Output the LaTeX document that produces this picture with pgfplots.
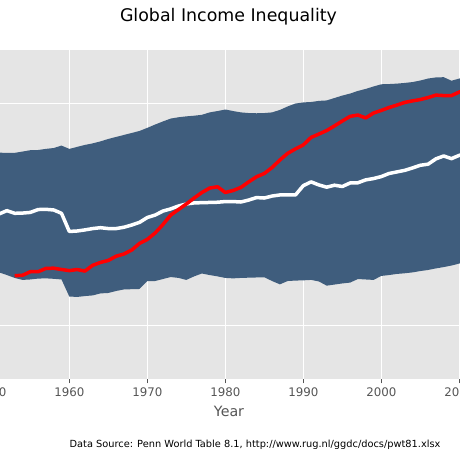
\documentclass[border=0pt]{standalone}
\usepackage{pgfplots}
\pgfplotsset{compat=1.18}
\usepackage{pgfplotstable}
\usepgfplotslibrary{fillbetween}
\usepackage{fontspec}
\setmainfont{DejaVu Sans}
\definecolor{band}{HTML}{3F5D7D}
\definecolor{panel}{HTML}{E5E5E5}
\definecolor{ticktext}{HTML}{555555}

% log10 of income: year, 10th pct (lo), median (med), 90th pct (hi)
\pgfplotstableread{
year lo med hi
1951 3.239 3.503 3.780
1952 3.227 3.518 3.779
1953 3.214 3.506 3.779
1954 3.205 3.507 3.785
1955 3.207 3.510 3.791
1956 3.211 3.523 3.792
1957 3.212 3.524 3.797
1958 3.210 3.521 3.801
1959 3.207 3.506 3.812
1960 3.130 3.424 3.797
1961 3.128 3.426 3.806
1962 3.132 3.431 3.815
1963 3.135 3.437 3.822
1964 3.144 3.441 3.831
1965 3.146 3.437 3.842
1966 3.155 3.437 3.851
1967 3.162 3.443 3.860
1968 3.163 3.453 3.869
1969 3.164 3.465 3.878
1970 3.200 3.487 3.892
1971 3.200 3.498 3.907
1972 3.209 3.516 3.921
1973 3.218 3.526 3.934
1974 3.214 3.539 3.940
1975 3.205 3.548 3.944
1976 3.221 3.553 3.947
1977 3.234 3.554 3.951
1978 3.227 3.555 3.962
1979 3.221 3.556 3.968
1980 3.214 3.559 3.975
1981 3.212 3.559 3.968
1982 3.214 3.557 3.962
1983 3.215 3.566 3.959
1984 3.216 3.577 3.958
1985 3.217 3.575 3.959
1986 3.200 3.584 3.962
1987 3.185 3.589 3.973
1988 3.200 3.589 3.989
1989 3.202 3.589 4.002
1990 3.203 3.631 4.007
1991 3.205 3.648 4.009
1992 3.198 3.634 4.014
1993 3.179 3.624 4.016
1994 3.184 3.633 4.027
1995 3.189 3.627 4.038
1996 3.193 3.643 4.047
1997 3.209 3.644 4.059
1998 3.207 3.657 4.068
1999 3.205 3.663 4.079
2000 3.223 3.672 4.089
2001 3.227 3.686 4.090
2002 3.232 3.693 4.092
2003 3.235 3.700 4.095
2004 3.239 3.711 4.099
2005 3.245 3.723 4.106
2006 3.250 3.728 4.115
2007 3.257 3.752 4.120
2008 3.263 3.765 4.121
2009 3.270 3.753 4.105
2010 3.279 3.768 4.115
2011 3.288 3.779 4.122
}\bandtable

\pgfplotstableread{
year val
1953 3.224
1954 3.226
1955 3.242
1956 3.242
1957 3.257
1958 3.258
1959 3.252
1960 3.247
1961 3.252
1962 3.245
1963 3.271
1964 3.284
1965 3.293
1966 3.312
1967 3.322
1968 3.340
1969 3.370
1970 3.388
1971 3.417
1972 3.455
1973 3.498
1974 3.523
1975 3.548
1976 3.575
1977 3.600
1978 3.620
1979 3.626
1980 3.600
1981 3.609
1982 3.623
1983 3.648
1984 3.671
1985 3.686
1986 3.713
1987 3.747
1988 3.777
1989 3.797
1990 3.815
1991 3.849
1992 3.864
1993 3.880
1994 3.901
1995 3.923
1996 3.944
1997 3.950
1998 3.937
1999 3.959
2000 3.971
2001 3.984
2002 3.995
2003 4.007
2004 4.014
2005 4.020
2006 4.029
2007 4.040
2008 4.038
2009 4.038
2010 4.054
2011 4.063
}\redtable

\begin{document}
\begin{tikzpicture}
\begin{axis}[
  at={(-16.5pt,80.5pt)}, anchor=origin,
  x=7.8pt, y=221.3pt,
  xmin=1949, xmax=2012, ymin=2.755, ymax=4.244,
  axis background/.style={fill=panel},
  axis line style={draw=none},
  grid=major, major grid style={white, line width=1pt},
  xtick={1950,1960,...,2010}, ytick={3,4},
  yticklabels={}, ytick style={draw=none},
  xtick pos=bottom, tick align=outside, major tick length=4pt,
  xtick style={ticktext, line width=0.8pt},
  /pgf/number format/1000 sep={},
  /pgf/number format/assume math mode=true,
  xticklabel style={font=\fontsize{11.8}{14}\selectfont, text=ticktext, yshift=-1pt},
]
\addplot[name path=hi, draw=none] table[x=year, y=hi] {\bandtable};
\addplot[name path=lo, draw=none] table[x=year, y=lo] {\bandtable};
\addplot[band, draw=none] fill between[of=hi and lo];
\addplot[white, line width=3.5pt, line join=round] table[x=year, y=med] {\bandtable};
\addplot[red, line width=3.5pt, line join=round] table[x=year, y=val] {\redtable};
\end{axis}
\node[font=\fontsize{17.4}{20}\selectfont] at (228.5pt,443.5pt) {Global Income Inequality};
\node[font=\fontsize{14.2}{17}\selectfont, text=ticktext] at (229pt,48.5pt) {Year};
\node[font=\fontsize{9.8}{11}\selectfont] at (255pt,15pt) {Data Source: Penn World Table 8.1, http://www.rug.nl/ggdc/docs/pwt81.xlsx};
\pgfresetboundingbox
\path[use as bounding box] (0pt,0pt) rectangle (460pt,460pt);
\end{tikzpicture}
\end{document}
